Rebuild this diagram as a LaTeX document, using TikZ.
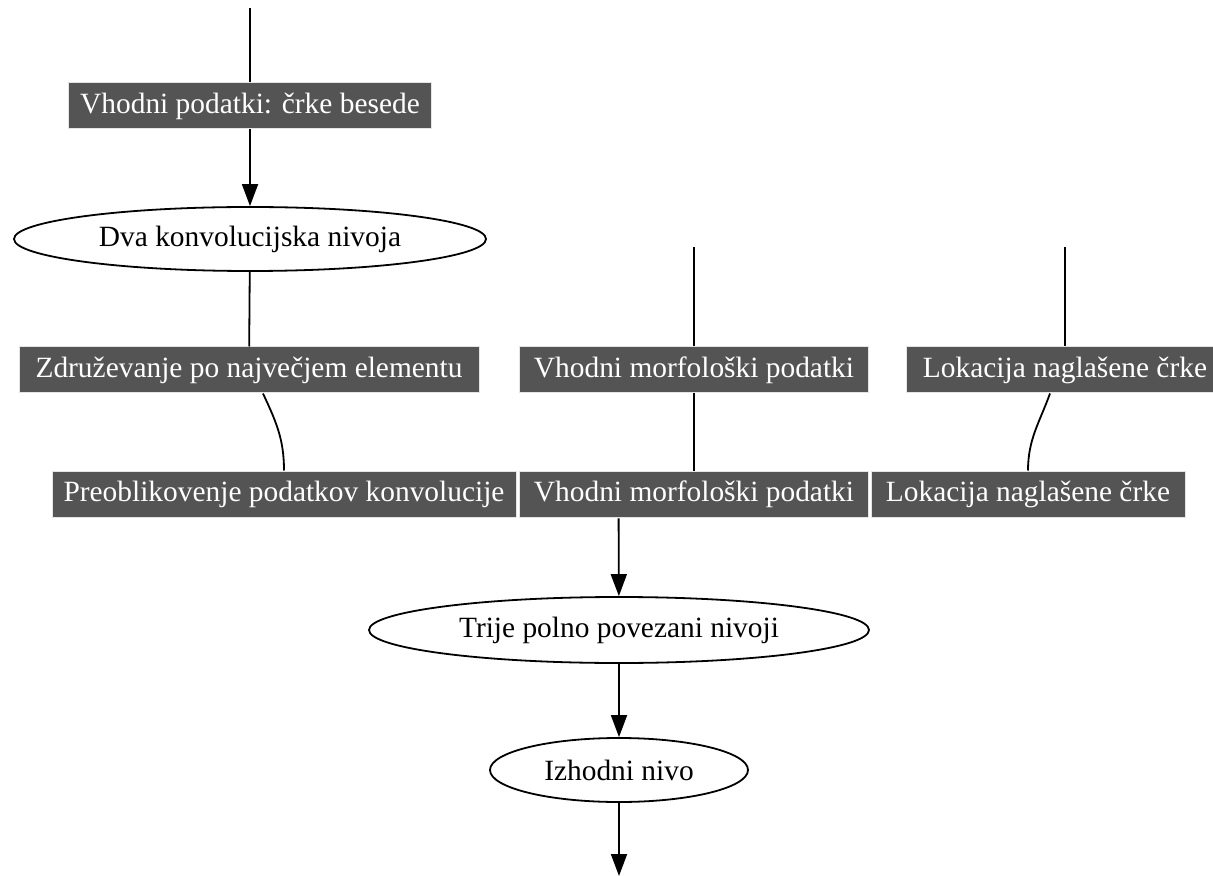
\documentclass[tikz,border=0pt]{standalone}
\usepackage{fontspec}
\setmainfont{Liberation Serif}
\usepackage{tikz}
\usetikzlibrary{shapes.geometric,arrows.meta,fit}

\definecolor{boxgray}{HTML}{545454}
\tikzset{
  data box/.style={rectangle, fill=boxgray, draw=gray!20, line width=0.5pt,
    text=white, minimum height=23pt, inner sep=0pt},
  layer/.style={ellipse, draw=black, fill=white, inner sep=0pt},
}

\begin{document}
\begin{tikzpicture}[x=0.5pt, y=-0.5pt, >={Triangle[length=11pt,width=8pt]},
  line width=0.9pt, font=\fontsize{14.7}{17}\selectfont]
\useasboundingbox (0,0) rectangle (1213,876);

% word branch
\node [data box, minimum width=363*0.5pt] (input) at (250,106) {Vhodni podatki: črke besede};
\node [layer, minimum width=472*0.5pt, minimum height=64*0.5pt] (conv) at (250,239) {Dva konvolucijska nivoja};
\node [data box, minimum width=460*0.5pt] (pool) at (249,370) {Združevanje po največjem elementu};

% extra inputs
\foreach \n/\x/\w/\l in {morf/694/349/Vhodni morfološki podatki, lok/1065/318/Lokacija naglašene črke}
  \node [data box, minimum width=\w*0.5pt] (\n-in) at (\x,370) {\l};

% concatenation row
\foreach \n/\x/\w/\l in {pre/284/464/Preoblikovenje podatkov konvolucije, morf/694/349/Vhodni morfološki podatki, lok/1028/314/Lokacija naglašene črke}
  \node [data box, minimum width=\w*0.5pt] (\n-cat) at (\x,494) {\l};
\node [fit=(pre-cat)(lok-cat), inner sep=0pt] (concat) {};

\node [layer, minimum width=500*0.5pt, minimum height=66*0.5pt] (dense) at (619,630) {Trije polno povezani nivoji};
\node [layer, minimum width=258*0.5pt, minimum height=64*0.5pt] (output) at (619,770) {Izhodni nivo};

\coordinate (input-top) at (250,8);
\coordinate (morf-top) at (694,247);
\coordinate (lok-top) at (1065,247);
\coordinate (output-end) at (619,876);

\draw (input-top) -- (input);
\draw [->] (input) -- (conv);
\draw (conv) -- (pool);
\draw ([xshift=7pt]pool.south) to [out=-65, in=90] (pre-cat.north);
\draw (morf-top) -- (morf-in);
\draw (morf-in) -- (morf-cat);
\draw (lok-top) -- (lok-in);
\draw ([xshift=-7.5pt]lok-in.south) to [out=-110, in=90] (lok-cat.north);

\draw [->] (concat) -- (dense);
\draw [->] (dense) -- (output);
\draw [->] (output) -- (output-end);
\end{tikzpicture}
\end{document}
